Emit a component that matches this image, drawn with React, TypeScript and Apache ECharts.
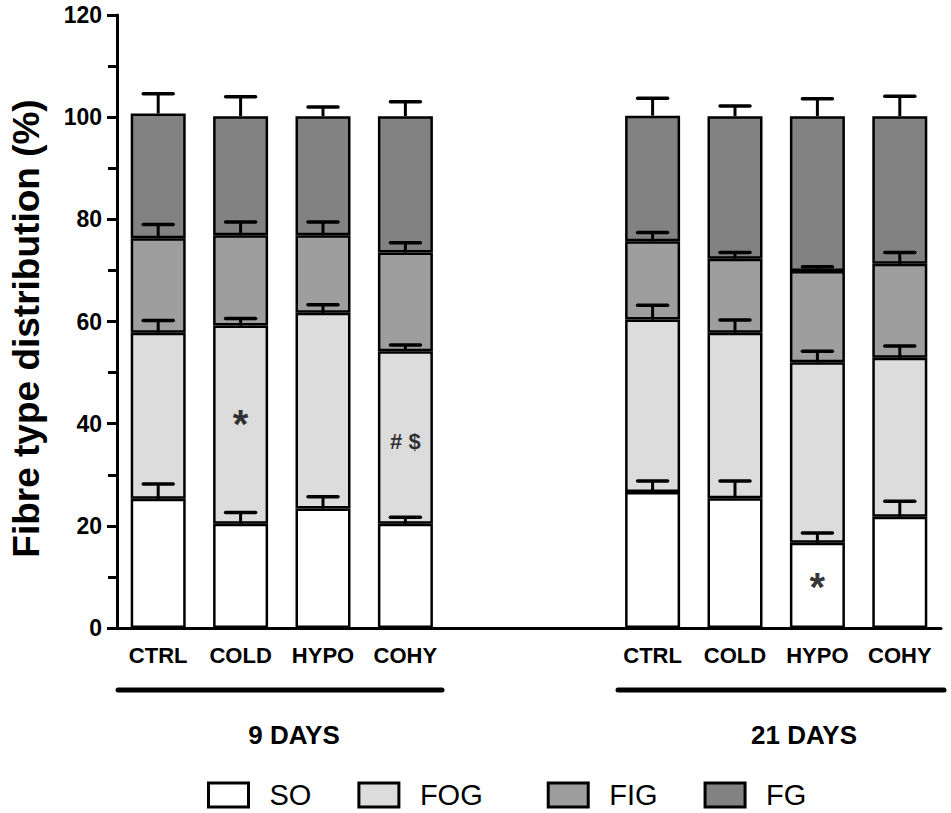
import React, { useEffect, useRef } from "react";
import * as echarts from "echarts";

// categories (two empty slots separate the 9-day and 21-day groups)
const groups = ["CTRL", "COLD", "HYPO", "COHY"];
const categories = [...groups, "", "", ...groups];

// mean % of each fibre type (stack components), 9 days then 21 days
const SO_9 = [25.3, 20.4, 23.4, 20.4];
const FOG_9 = [32.5, 38.8, 38.3, 33.8];
const FIG_9 = [18.5, 17.7, 15.2, 19.3];
const FG_9 = [24.4, 23.3, 23.3, 26.7];
const SO_21 = [26.6, 25.4, 16.7, 21.8];
const FOG_21 = [33.8, 32.4, 35.3, 31.1];
const FIG_21 = [15.3, 14.5, 17.9, 18.4];
const FG_21 = [24.6, 27.9, 30.3, 28.9];

// SEM of each fibre type
const SO_ERR_9 = [2.9, 2.2, 2.3, 1.3];
const FOG_ERR_9 = [2.4, 1.4, 1.6, 1.2];
const FIG_ERR_9 = [2.7, 2.6, 2.6, 1.9];
const FG_ERR_9 = [3.9, 3.8, 1.8, 2.8];
const SO_ERR_21 = [2.2, 3.4, 1.9, 3.0];
const FOG_ERR_21 = [2.8, 2.5, 2.2, 2.3];
const FIG_ERR_21 = [1.7, 1.2, 0.8, 2.2];
const FG_ERR_21 = [3.4, 2.0, 3.4, 3.9];

// significance marks: [category index, y value, text]
const marks: [number, number, string][] = [
  [1, 40.0, "*"],
  [3, 36.5, "# $"],
  [8, 8.0, "*"],
];

const seriesNames = ["SO", "FOG", "FIG", "FG"];
const colors = ["#ffffff", "#dcdcdc", "#9e9e9e", "#828282"];
const yTicks = [0, 20, 40, 60, 80, 100, 120];

const join = (a: number[], b: number[]) => [...a, null, null, ...b];

export default function App() {
  const ref = useRef<HTMLDivElement>(null);
  useEffect(() => {
    document.body.style.margin = "0";
    const chart = echarts.init(ref.current!, undefined, { renderer: "svg" });
    const values = [
      join(SO_9, SO_21),
      join(FOG_9, FOG_21),
      join(FIG_9, FIG_21),
      join(FG_9, FG_21),
    ];
    const errs = [
      join(SO_ERR_9, SO_ERR_21),
      join(FOG_ERR_9, FOG_ERR_21),
      join(FIG_ERR_9, FIG_ERR_21),
      join(FG_ERR_9, FG_ERR_21),
    ];
    const errData: number[][] = [];
    categories.forEach((_, i) => {
      let cum = 0;
      for (let s = 0; s < 4; s++) {
        const v = values[s][i];
        if (v == null) continue;
        cum += v;
        errData.push([i, cum, cum + (errs[s][i] as number)]);
      }
    });

    const font = "'Liberation Sans', Arial, sans-serif";
    chart.setOption({
      animation: false,
      textStyle: { fontFamily: font, color: "#000" },
      grid: { left: 117, right: 10, top: 15, bottom: 185 },
      legend: {
        left: 207,
        top: 780,
        padding: 0,
        icon: "rect",
        itemWidth: 40,
        itemHeight: 24,
        itemGap: 46,
        data: seriesNames.map((name) =>
          name === "FOG"
            ? { name, textStyle: { padding: [0, 18, 0, 16] } }
            : { name }
        ),
        itemStyle: { borderColor: "#000", borderWidth: 3 },
        textStyle: {
          fontSize: 29,
          color: "#000",
          fontFamily: "'Liberation Sans Narrow', 'Arial Narrow', " + font,
          padding: [0, 0, 0, 16],
          lineHeight: 30,
        },
      },
      xAxis: {
        type: "category",
        data: categories,
        axisLine: { lineStyle: { color: "#000", width: 3 } },
        axisTick: { show: false },
        axisLabel: {
          interval: 0,
          fontSize: 22,
          fontWeight: "bold",
          color: "#000",
          margin: 16,
        },
      },
      yAxis: {
        type: "value",
        min: 0,
        max: 120,
        interval: 20,
        name: "Fibre type distribution (%)",
        nameLocation: "middle",
        nameGap: 72,
        nameTextStyle: {
          fontSize: 37,
          fontWeight: "bold",
          color: "#000",
          padding: [0, 14, 0, 0],
        },
        axisLine: { show: true, lineStyle: { color: "#000", width: 3 } },
        axisTick: { show: true, length: 10, lineStyle: { color: "#000", width: 3 } },
        minorTick: { show: true, splitNumber: 2, length: 9, lineStyle: { color: "#000", width: 3 } },
        splitLine: { show: false },
        axisLabel: {
          fontSize: 23,
          fontWeight: "bold",
          color: "#000",
          margin: 15,
          formatter: (v: number) => (yTicks.includes(v) ? String(v) : ""),
        },
      },
      series: [
        ...seriesNames.map((name, s) => ({
          name,
          type: "bar",
          stack: "total",
          barWidth: 55,
          data: values[s],
          itemStyle: { color: colors[s], borderColor: "#000", borderWidth: 2.5 },
        })),
        {
          type: "custom",
          z: 5,
          silent: true,
          data: errData,
          encode: { x: 0, y: [1, 2] },
          renderItem: (params: any, api: any) => {
            const x = api.value(0);
            const p0 = api.coord([x, api.value(1)]);
            const p1 = api.coord([x, api.value(2)]);
            return {
              type: "group",
              children: [
                {
                  type: "line",
                  shape: { x1: p0[0], y1: p0[1], x2: p1[0], y2: p1[1] },
                  style: { stroke: "#000", lineWidth: 3 },
                },
                {
                  type: "line",
                  shape: { x1: p1[0] - 15, y1: p1[1], x2: p1[0] + 15, y2: p1[1] },
                  style: { stroke: "#000", lineWidth: 3.5, lineCap: "round" },
                },
              ],
            };
          },
        },
        {
          type: "scatter",
          z: 6,
          symbolSize: 0,
          silent: true,
          data: marks.map(([i, y, t]) => ({
            value: [i, y],
            name: t,
            label: { fontSize: t === "*" ? 40 : 22 },
          })),
          label: {
            show: true,
            position: "inside",
            formatter: (p: any) => p.name,
            color: "#000",
            fontWeight: "bold",
            fontSize: 22,
          },
        },
      ],
      graphic: [
        {
          type: "line",
          shape: { x1: 118, y1: 690, x2: 442, y2: 690 },
          style: { stroke: "#000", lineWidth: 5, lineCap: "round" },
        },
        {
          type: "line",
          shape: { x1: 618, y1: 690, x2: 944, y2: 690 },
          style: { stroke: "#000", lineWidth: 5, lineCap: "round" },
        },
        {
          type: "text",
          x: 294,
          y: 735,
          style: {
            text: "9 DAYS",
            fontSize: 26,
            fontWeight: "bold",
            fontFamily: font,
            fill: "#000",
            align: "center",
            verticalAlign: "middle",
          },
        },
        {
          type: "text",
          x: 804,
          y: 735,
          style: {
            text: "21 DAYS",
            fontSize: 26,
            fontWeight: "bold",
            fontFamily: font,
            fill: "#000",
            align: "center",
            verticalAlign: "middle",
          },
        },
      ],
    });
    return () => chart.dispose();
  }, []);
  return <div ref={ref} style={{ width: 951, height: 813 }} />;
}
